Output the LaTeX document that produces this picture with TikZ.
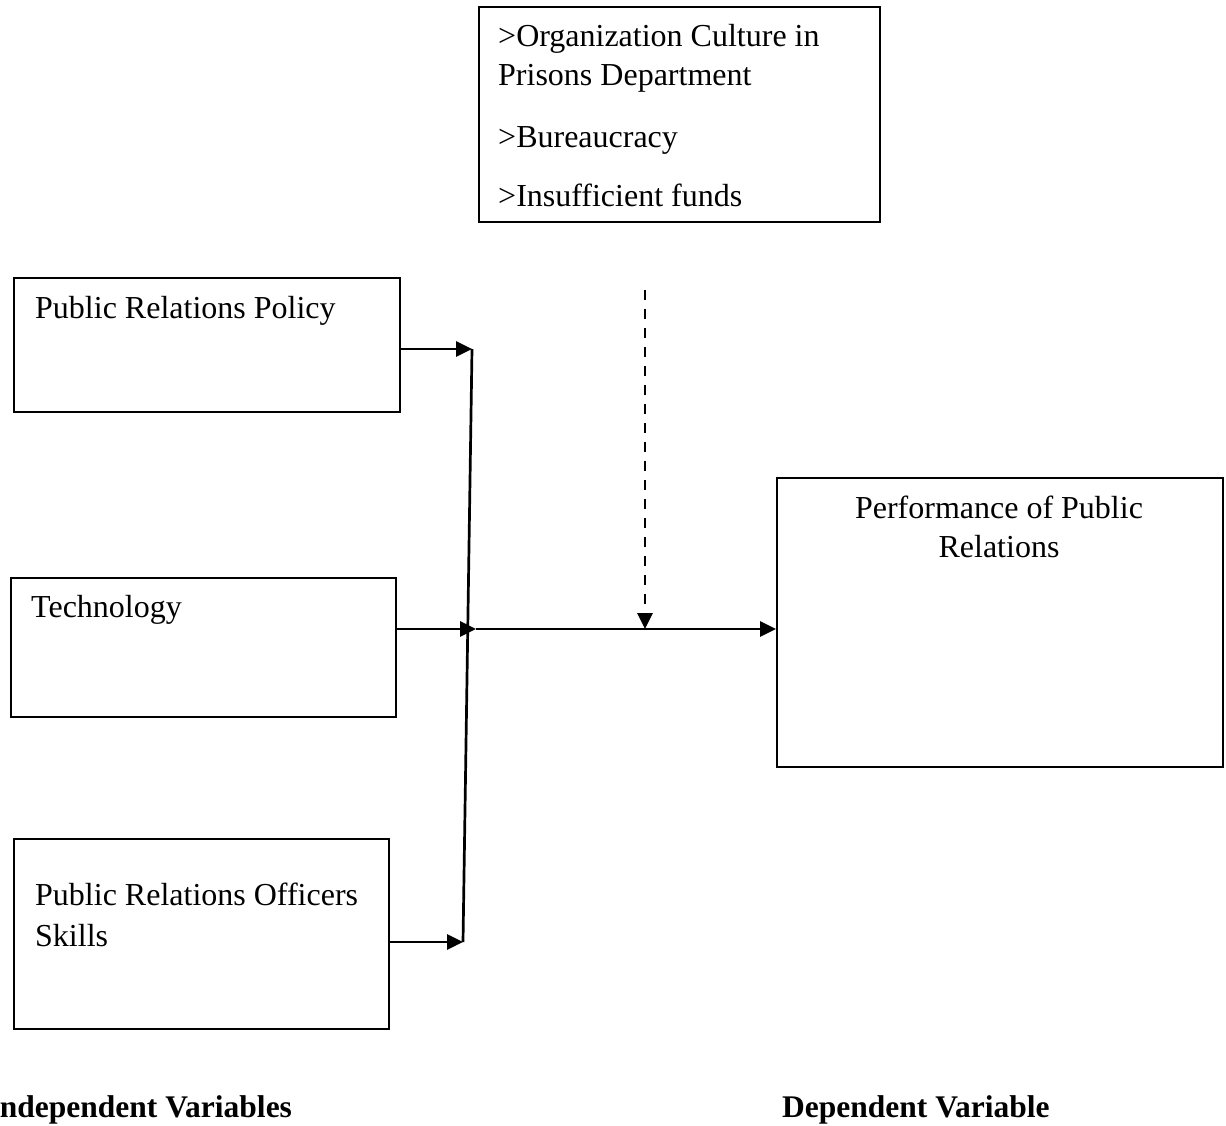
\documentclass[tikz,border=0pt]{standalone}
\usepackage{fontspec}
\setmainfont{Liberation Serif}
\usetikzlibrary{arrows.meta,positioning,calc}
\tikzset{
  varbox/.style={rectangle,draw=black,line width=2pt,anchor=north west,inner sep=0pt},
  boxtext/.style={anchor=base west,inner sep=0pt,font=\fontsize{32}{37}\selectfont},
  heading/.style={anchor=base west,inner sep=0pt,font=\fontsize{31.5}{36}\selectfont\bfseries},
  arrow/.style={-{Triangle[length=16pt,width=15pt]},line width=2.7pt},
  link/.style={line width=2.7pt}
}

\begin{document}
\begin{tikzpicture}[x=1pt,y=-1pt]
\useasboundingbox (0,0) rectangle (1226,1126);

% Moderating factors on top.
\node[varbox,minimum width=401,minimum height=215] (mods) at (478,6) {};
\node[boxtext] (modA) at (498,47) {>Organization Culture in};
\node[boxtext] (modB) at (498,86) {Prisons Department};
\node[boxtext] (modC) at (498,148) {>Bureaucracy};
\node[boxtext] (modD) at (498,207) {>Insufficient funds};

% Independent variables.
\node[varbox,minimum width=386,minimum height=134] (policy) at (13,277) {};
\node[boxtext] (policytext) at (35,318) {Public Relations Policy};

\node[varbox,minimum width=385,minimum height=139] (tech) at (10,577) {};
\node[boxtext] (techtext) at (31,617) {Technology};

\node[varbox,minimum width=375,minimum height=190] (skills) at (13,838) {};
\node[boxtext] (skillstext) at (35,905) {Public Relations Officers};
\node[boxtext] (skillstextB) at (35,946) {Skills};

% Dependent variable.
\node[varbox,minimum width=446,minimum height=289] (perf) at (776,477) {};
\node[boxtext,anchor=base] (perftext) at (999,518) {Performance of Public};
\node[boxtext,anchor=base] (perftextB) at (999,557) {Relations};

% Captions under the two columns.
\node[heading] (indep) at (-12.5,1117) {Independent Variables};
\node[heading] (dep) at (782,1117) {Dependent Variable};

% Joining line and arrows.
\coordinate (jA) at (472,349);
\coordinate (jB) at (476,629);
\coordinate (jC) at (463,942);
\coordinate (mtop) at (645,290);

\draw[link] (jA) -- (jC);
\draw[arrow] (policy.east |- jA) -- (jA);
\draw[arrow] (tech.east |- jB) -- (jB);
\draw[arrow] (skills.east |- jC) -- (jC);
\draw[arrow] (jB) -- (perf.west |- jB);
\draw[arrow,dash pattern=on 10pt off 9pt] (mtop) -- (mtop |- jB);
\end{tikzpicture}
\end{document}
